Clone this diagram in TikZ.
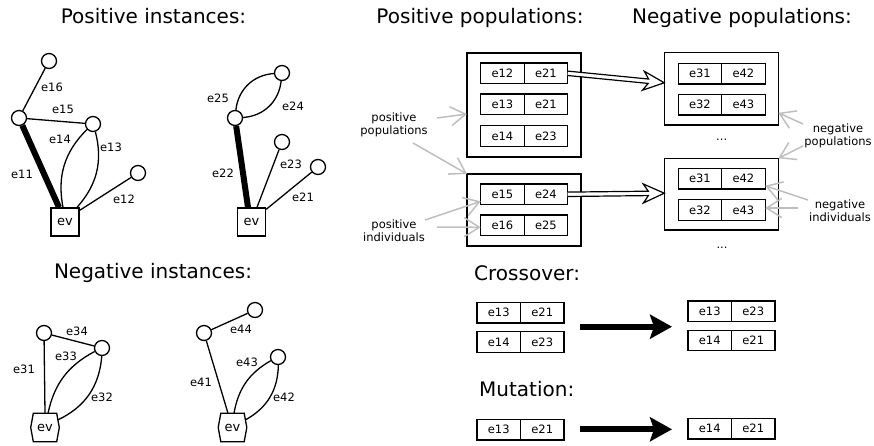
\documentclass[tikz,border=0pt]{standalone}
\usepackage{fontspec}
\setmainfont{DejaVu Sans}
\usetikzlibrary{arrows.meta,calc}

\definecolor{hintgray}{RGB}{190,190,190}

\tikzset{
  lab/.style={font=\fontsize{11.5}{13}\selectfont, inner sep=0pt},
  note/.style={font=\fontsize{11.5}{13}\selectfont, inner sep=0pt, align=center},
  heading/.style={font=\fontsize{20}{24}\selectfont, inner sep=0pt, anchor=base},
  vtx/.style={circle, draw, line width=1.3pt, minimum size=15pt, inner sep=0pt},
  evbox/.style={draw, line width=1.3pt, minimum width=28pt, minimum height=28pt,
    inner sep=0pt, font=\fontsize{13}{15}\selectfont},
  evhex/.style={minimum width=23.4pt, minimum height=28.4pt, inner sep=0pt,
    outer sep=0pt, font=\fontsize{13}{15}\selectfont},
  hexline/.style={line width=1.3pt, line join=miter},
  edge/.style={line width=1.3pt},
  heavy/.style={line width=6pt},
  cell/.style={draw, line width=1.3pt, minimum width=43.5pt, minimum height=20.5pt,
    inner sep=0pt, outer sep=0pt, font=\fontsize{11.5}{13}\selectfont},
  popbox/.style={draw, line width=1.5pt, inner sep=0pt, outer sep=0pt},
  hint/.style={draw=hintgray, line width=1.5pt, -{Straight Barb[length=15pt,width=19pt]}},
  dbl/.style={draw, fill=white, line width=1.2pt, line join=miter},
  bigarrow/.style={line width=6pt, -{Stealth[length=22pt,width=24pt,inset=4pt]}}
}

% two adjacent cells: name, centre x, centre y, left text, right text
\newcommand\pairbox[5]{%
  \node[cell] (#1-l) at (#2-21.75,#3) {#4};
  \node[cell, anchor=west] (#1-r) at (#1-l.east) {#5};}

% hollow double-shafted arrow from #1 to #2
\newcommand\blockarrow[2]{%
  \path (#1) coordinate (ba-s) (#2) coordinate (ba-t);
  \path ($(ba-t)!16pt!(ba-s)$) coordinate (ba-n) ($(ba-t)!21pt!(ba-s)$) coordinate (ba-h);
  \draw[dbl] ($(ba-s)!2.2pt!90:(ba-t)$) -- ($(ba-n)!2.2pt!90:(ba-t)$)
    -- ($(ba-h)!9.5pt!90:(ba-t)$) -- (ba-t) -- ($(ba-h)!9.5pt!-90:(ba-t)$)
    -- ($(ba-n)!2.2pt!-90:(ba-t)$) -- ($(ba-s)!2.2pt!-90:(ba-t)$);}

\begin{document}
\begin{tikzpicture}[x=1pt, y=-1pt]
\useasboundingbox (0,0) rectangle (874,445);

% ---------- headings ----------
\node[heading] (h-posinst) at (153.5,23.5) {Positive instances:};
\node[heading] (h-pospop) at (480,23.5) {Positive populations:};
\node[heading] (h-negpop) at (742,23.5) {Negative populations:};
\node[heading] (h-neginst) at (153,278.3) {Negative instances:};
\node[heading, anchor=base west] (h-cross) at (474,280.6) {Crossover:};
\node[heading, anchor=base west] (h-mut) at (479,396.7) {Mutation:};

% ---------- positive instance 1 ----------
\node[evbox] (ev1) at (65,222) {ev};
\node[vtx] (v16) at (49,61) {};
\node[vtx] (vA) at (19,118) {};
\node[vtx] (vB) at (93,124) {};
\node[vtx] (vC) at (138,173) {};
\draw[heavy] (vA) -- ([xshift=-6pt]ev1.north);
\draw[edge] (vA) -- (v16);
\draw[edge] (vA) -- (vB);
\draw[edge] ([xshift=-2pt]ev1.north) to[bend left=28] (vB);
\draw[edge] ([xshift=12pt]ev1.north) to[bend right=28] (vB);
\draw[edge] ([yshift=-3pt]ev1.north east) -- (vC);
\node[lab] (l16) at (52,87) {e16};
\node[lab] (l15) at (63,109) {e15};
\node[lab] (l14) at (60,139) {e14};
\node[lab] (l13) at (111,147) {e13};
\node[lab] (l11) at (22,174) {e11};
\node[lab] (l12) at (124,199) {e12};

% ---------- positive instance 2 ----------
\node[evbox] (ev2) at (251.5,222) {ev};
\node[vtx] (vD) at (235,118) {};
\node[vtx] (vE) at (282,73) {};
\node[vtx] (vF) at (282,142) {};
\node[vtx] (vG) at (318,167) {};
\draw[heavy] (vD) -- ([xshift=-3.5pt]ev2.north);
\draw[edge] (vD) to[bend left=40] (vE);
\draw[edge] (vD) to[bend right=40] (vE);
\draw[edge] ([xshift=5.5pt]ev2.north) -- (vF);
\draw[edge] ([yshift=-2pt]ev2.north east) -- (vG);
\node[lab] (l25) at (218,98) {e25};
\node[lab] (l24) at (293,106) {e24};
\node[lab] (l23) at (291,164) {e23};
\node[lab] (l22) at (223,173) {e22};
\node[lab] (l21) at (303,197) {e21};

% ---------- negative instance 1 ----------
\node[evhex] (evn1) at (45,427.5) {ev};
\draw[hexline] (evn1.north west) -- (evn1.north east) -- ([xshift=2.6pt]evn1.east)
  -- (evn1.south east) -- (evn1.south west) -- ([xshift=-2.6pt]evn1.west) -- cycle;
\node[vtx] (vH) at (44,333) {};
\node[vtx] (vI) at (102,348) {};
\draw[edge] (vH) -- (evn1.north);
\draw[edge] (vH) -- (vI);
\draw[edge] ([xshift=3pt]evn1.north) to[bend left=25] (vI);
\draw[edge] ([xshift=1pt,yshift=7.5pt]evn1.east) to[bend right=30] (vI);
\node[lab] (l34) at (77,331) {e34};
\node[lab] (l33) at (66,356) {e33};
\node[lab] (l31) at (24,369) {e31};
\node[lab] (l32) at (102,397) {e32};

% ---------- negative instance 2 ----------
\node[evhex] (evn2) at (232.5,427.5) {ev};
\draw[hexline] (evn2.north west) -- (evn2.north east) -- ([xshift=2.6pt]evn2.east)
  -- (evn2.south east) -- (evn2.south west) -- ([xshift=-2.6pt]evn2.west) -- cycle;
\node[vtx] (vJ) at (204,333) {};
\node[vtx] (vK) at (255,310) {};
\node[vtx] (vL) at (278,357) {};
\draw[edge] (vJ) -- ([xshift=-4.5pt]evn2.north);
\draw[edge] (vJ) -- (vK);
\draw[edge] ([xshift=1.5pt]evn2.north) to[bend left=25] (vL);
\draw[edge] ([xshift=1pt,yshift=7.5pt]evn2.east) to[bend right=30] (vL);
\node[lab] (l44) at (241,329) {e44};
\node[lab] (l43) at (247,362) {e43};
\node[lab] (l41) at (201,382) {e41};
\node[lab] (l42) at (284,397) {e42};

% ---------- populations ----------
\node[popbox, minimum width=114pt, minimum height=104pt] (ppop1) at (524,105) {};
\node[popbox, minimum width=114pt, minimum height=72pt] (ppop2) at (524,210) {};
\node[popbox, minimum width=114pt, minimum height=72.3pt] (npop1) at (721.3,88.8) {};
\node[popbox, minimum width=114pt, minimum height=71.7pt] (npop2) at (721.3,194.2) {};

\pairbox{p1a}{524.2}{73.3}{e12}{e21}
\pairbox{p1b}{524.2}{104.3}{e13}{e21}
\pairbox{p1c}{524.2}{136}{e14}{e23}
\pairbox{p2a}{524.2}{194.3}{e15}{e24}
\pairbox{p2b}{524.2}{225.3}{e16}{e25}

\pairbox{n1a}{721.7}{73.7}{e31}{e42}
\pairbox{n1b}{721.7}{104.7}{e32}{e43}
\pairbox{n2a}{721.7}{178.7}{e31}{e42}
\pairbox{n2b}{721.7}{210}{e32}{e43}

\node[lab] (dots1) at (721.7,140) {...};
\node[lab] (dots2) at (722,248) {...};

\blockarrow{p1a-r.east}{[yshift=6pt]npop1.west}
\blockarrow{p2a-r.east}{[yshift=1pt]npop2.west}

% explanatory notes with grey pointers
\node[note] (n-pospop) at (394,124.5) {positive\\populations};
\node[note] (n-posind) at (394,230.5) {positive\\individuals};
\node[note] (n-negpop) at (838,135.5) {negative\\populations};
\node[note] (n-negind) at (840,210.5) {negative\\individuals};

\coordinate (tpp1) at (437,118);
\coordinate (tpp2) at (413,143);
\coordinate (tpi1) at (425,220);
\coordinate (tpi2) at (437,227);
\coordinate (tnp1) at (803,124);
\coordinate (tnp2) at (803,146);
\coordinate (tni1) at (808,200);
\coordinate (tni2) at (798,208);

\draw[hint] (tpp1) -- ([yshift=-9pt]ppop1.west);
\draw[hint] (tpp2) -- (ppop2.north west);
\draw[hint] (tpi1) -- ([yshift=-7pt]p2a-l.west);
\draw[hint] (tpi2) -- ([yshift=-2pt]p2b-l.west);
\draw[hint] (tnp1) -- ([yshift=-24pt]npop1.east);
\draw[hint] (tnp2) -- (npop2.north east);
\draw[hint] (tni1) -- ([yshift=-7pt]n2a-r.east);
\draw[hint] (tni2) -- ([yshift=2pt]n2b-r.east);

% ---------- crossover ----------
\pairbox{ca}{520.5}{312.7}{e13}{e21}
\pairbox{cb}{520.5}{342}{e14}{e23}
\pairbox{cc}{731.5}{311.3}{e13}{e23}
\pairbox{cd}{731.5}{340.5}{e14}{e21}
\coordinate (xa) at (580,326.7);
\coordinate (xb) at (672,326.7);
\draw[bigarrow] (xa) -- (xb);

% ---------- mutation ----------
\pairbox{ma}{520.5}{429.7}{e13}{e21}
\pairbox{mb}{731.5}{428.7}{e14}{e21}
\coordinate (ya) at (580,429.3);
\coordinate (yb) at (672,429.3);
\draw[bigarrow] (ya) -- (yb);
\end{tikzpicture}
\end{document}
